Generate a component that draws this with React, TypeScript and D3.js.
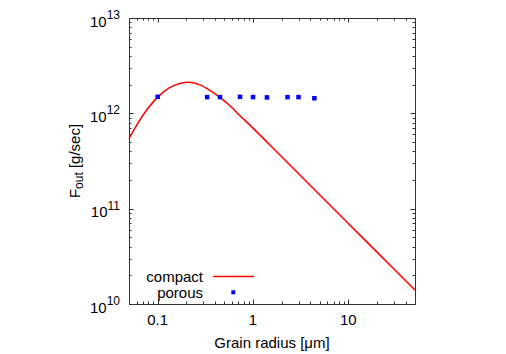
import React, { useEffect, useRef } from 'react';
import * as d3 from 'd3';

// compact grains: model curve
const compactRadius = [0.05, 0.059, 0.075, 0.1, 0.132, 0.171, 0.217, 0.277, 0.353, 0.45, 0.573, 0.726, 1, 2, 5, 10, 20, 50];
const compactFlux = [5.4e11, 7.25e11, 1.05e12, 1.48e12, 1.85e12, 2.06e12, 2.12e12, 1.99e12, 1.74e12, 1.47e12, 1.2e12, 9.5e11, 7.0e11, 3.5e11, 1.4e11, 7.0e10, 3.5e10, 1.4e10];

// porous grains: points
const porousRadius = [0.1, 0.33, 0.45, 0.73, 1.0, 1.4, 2.3, 3.0, 4.4];
const porousFlux = [1.49e12, 1.48e12, 1.48e12, 1.49e12, 1.48e12, 1.47e12, 1.48e12, 1.48e12, 1.44e12];

const xTickValues = [0.1, 1, 10];
const xTickLabels = ['0.1', '1', '10'];
const yTickExponents = [10, 11, 12, 13];

const App = () => {
  const svgRef = useRef(null);

  useEffect(() => {
    const svg = d3.select(svgRef.current);
    svg.selectAll('*').remove();

    const W = 506;
    const H = 354;
    const margin = { top: 18, right: 91, bottom: 50, left: 129 };
    const x = d3.scaleLog().domain([0.05, 50]).range([margin.left, W - margin.right]);
    const y = d3.scaleLog().domain([1e10, 1e13]).range([H - margin.bottom, margin.top]);
    const font = "'Liberation Sans', Arial, sans-serif";
    const fs = 15;
    const axisColor = '#333';

    svg.append('rect').attr('width', W).attr('height', H).attr('fill', 'white');

    const [x0, x1] = x.range();
    const [y0, y1] = y.range();

    // ticks on all four sides (gnuplot style)
    const ticks = svg.append('g').attr('stroke', axisColor).attr('stroke-width', 1);
    const xMinor = [];
    for (let d = 0.01; d <= 100; d *= 10) {
      for (let k = 1; k <= 9; k++) {
        const v = d * k;
        if (v >= 0.05 - 1e-9 && v <= 50 + 1e-9) xMinor.push(v);
      }
    }
    xMinor.forEach((v) => {
      const major = xTickValues.some((t) => Math.abs(t - v) < 1e-9);
      const len = major ? 4.5 : 2.5;
      const px = Math.round(x(v)) + 0.5;
      ticks.append('line').attr('x1', px).attr('x2', px).attr('y1', y0).attr('y2', y0 - len);
      ticks.append('line').attr('x1', px).attr('x2', px).attr('y1', y1).attr('y2', y1 + len);
    });
    const yMinor = [];
    for (let e = 10; e <= 13; e++) {
      for (let k = 1; k <= 9; k++) {
        const v = k * Math.pow(10, e);
        if (v <= 1e13) yMinor.push({ v, major: k === 1 });
      }
    }
    yMinor.forEach(({ v, major }) => {
      const len = major ? 4.5 : 2.5;
      const py = Math.round(y(v)) + 0.5;
      ticks.append('line').attr('x1', x0).attr('x2', x0 + len).attr('y1', py).attr('y2', py);
      ticks.append('line').attr('x1', x1).attr('x2', x1 - len).attr('y1', py).attr('y2', py);
    });

    // frame
    svg.append('rect')
      .attr('x', x0 + 0.5)
      .attr('y', y1 + 0.5)
      .attr('width', x1 - x0)
      .attr('height', y0 - y1)
      .attr('fill', 'none')
      .attr('stroke', axisColor)
      .attr('stroke-width', 1);

    // x tick labels
    xTickValues.forEach((v, i) => {
      svg.append('text')
        .attr('x', x(v))
        .attr('y', y0 + 21)
        .attr('text-anchor', 'middle')
        .attr('font-family', font)
        .attr('font-size', fs)
        .text(xTickLabels[i]);
    });

    // y tick labels 10^n
    yTickExponents.forEach((e) => {
      const t = svg.append('text')
        .attr('x', x0 - 9)
        .attr('y', y(Math.pow(10, e)) + 8.5)
        .attr('text-anchor', 'end')
        .attr('font-family', font)
        .attr('font-size', fs);
      t.append('tspan').text('10');
      t.append('tspan').attr('dy', -7.5).attr('font-size', 12).text(String(e));
    });

    // axis titles
    svg.append('text')
      .attr('x', (x0 + x1) / 2)
      .attr('y', 348)
      .attr('text-anchor', 'middle')
      .attr('font-family', font)
      .attr('font-size', fs)
      .text('Grain radius [\u03bcm]');

    const yt = svg.append('text')
      .attr('transform', `translate(79.5,${(y0 + y1) / 2}) rotate(-90)`)
      .attr('text-anchor', 'middle')
      .attr('font-family', font)
      .attr('font-size', fs);
    yt.append('tspan').text('F');
    yt.append('tspan').attr('dy', 3.5).attr('font-size', 12).text('out');
    yt.append('tspan').attr('dy', -3.5).text(' [g/sec]');

    // compact curve
    const compact = compactRadius.map((r, i) => [r, compactFlux[i]]);
    const line = d3.line()
      .x((d) => x(d[0]))
      .y((d) => y(d[1]))
      .curve(d3.curveCatmullRom.alpha(0.5));
    svg.append('path')
      .datum(compact)
      .attr('d', line)
      .attr('fill', 'none')
      .attr('stroke', '#ff0000')
      .attr('stroke-width', 1.5);

    // porous points
    const sq = 4.5;
    porousRadius.forEach((r, i) => {
      svg.append('rect')
        .attr('x', x(r) - sq / 2)
        .attr('y', y(porousFlux[i]) - sq / 2)
        .attr('width', sq)
        .attr('height', sq)
        .attr('fill', '#0000ff');
    });

    // legend
    const legend = svg.append('g').attr('font-family', font).attr('font-size', fs);
    legend.append('text').attr('x', 203).attr('y', 282).attr('text-anchor', 'end').text('compact');
    legend.append('line')
      .attr('x1', 213).attr('x2', 254)
      .attr('y1', 276.5).attr('y2', 276.5)
      .attr('stroke', '#ff0000').attr('stroke-width', 1.5);
    legend.append('text').attr('x', 203).attr('y', 297.5).attr('text-anchor', 'end').text('porous');
    legend.append('rect')
      .attr('x', 233.3 - 2).attr('y', 292.3 - 2)
      .attr('width', 4).attr('height', 4)
      .attr('fill', '#0000ff');
  }, []);

  return (
    <svg
      ref={svgRef}
      width={506}
      height={354}
      style={{ position: 'absolute', left: 0, top: 0, display: 'block' }}
    />
  );
};

export default App;
